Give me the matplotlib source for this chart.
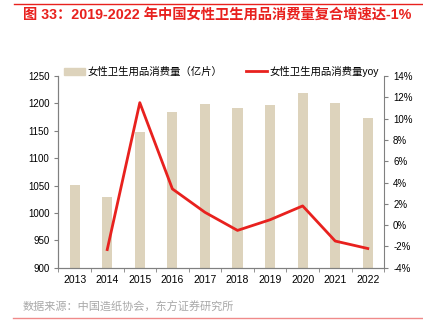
import numpy as np
import matplotlib.pyplot as plt
from matplotlib.lines import Line2D

plt.rcParams['font.family'] = ['Liberation Sans', 'Noto Sans CJK SC']
plt.rcParams['axes.unicode_minus'] = False

# 女性卫生用品消费量（亿片）及同比
years = ['2013', '2014', '2015', '2016', '2017', '2018', '2019', '2020', '2021', '2022']
volume = [1051, 1029, 1147, 1185, 1199, 1192, 1198, 1219, 1201, 1173]
yoy = [None, -2.3, 11.5, 3.4, 1.2, -0.5, 0.5, 1.8, -1.5, -2.2]

bar_color = '#DDD3BC'
line_color = '#E8211E'
axis_color = '#808080'

fig = plt.figure(figsize=(4.23, 3.35), dpi=100)
ax = fig.add_axes([0.138, 0.201, 0.770, 0.572])
ax2 = ax.twinx()

x = np.arange(len(years))
ax.bar(x, volume, width=0.31, color=bar_color, zorder=2)
yoy_x = [i for i, v in enumerate(yoy) if v is not None]
yoy_y = [v for v in yoy if v is not None]
ax2.plot(yoy_x, yoy_y, color=line_color, lw=2, zorder=3)

ax.set_xlim(-0.5, len(years) - 0.5)
ax.set_ylim(900, 1250)
ax.set_yticks(np.arange(900, 1251, 50))
ax2.set_ylim(-4, 14)
ax2.set_yticks(np.arange(-4, 15, 2))
ax2.set_yticklabels([f'{v}%' for v in range(-4, 15, 2)])

ax.set_xticks(x)
ax.set_xticklabels(years)
ax.set_xticks(np.arange(-0.5, len(years), 1), minor=True)
ax.tick_params(axis='x', which='major', length=0, pad=5, labelsize=7.5)
ax.tick_params(axis='x', which='minor', length=3, color=axis_color)
ax.tick_params(axis='y', length=3, color=axis_color, labelsize=7)
ax2.tick_params(axis='y', length=3, color=axis_color, labelsize=7)

for a in (ax, ax2):
    a.spines['top'].set_visible(False)
    for s in ('left', 'right', 'bottom'):
        a.spines[s].set_color(axis_color)
ax.spines['right'].set_visible(False)

handles = [plt.Rectangle((0, 0), 1, 1, color=bar_color),
           Line2D([0], [0], color=line_color, lw=2)]
labels = ['女性卫生用品消费量（亿片）', '女性卫生用品消费量yoy']
fig.legend(handles, labels, loc='center left', bbox_to_anchor=(64 / 423, 0.787),
           ncol=2, frameon=False, fontsize=7.5, handlelength=2.0,
           handleheight=0.7, handletextpad=0.3, columnspacing=2.2,
           borderpad=0, borderaxespad=0)

# 标题、来源及上下分隔线
fig.add_artist(Line2D([14 / 423, 1], [1 - 4 / 335] * 2, color='#E8211E', lw=1))
fig.text(23 / 423, 1 - 15 / 335, '图 33：2019-2022 年中国女性卫生用品消费量复合增速达-1%',
         color='#E8211E', fontsize=10.3, fontweight='bold', va='center')
fig.text(23 / 423, 1 - 307 / 335, '数据来源：中国造纸协会，东方证券研究所',
         color='#A8A8A8', fontsize=8, va='center')
fig.add_artist(Line2D([13 / 423, 1], [1 - 318 / 335] * 2, color='#F08A8A', lw=1))

fig.savefig('out.png', dpi=100)
